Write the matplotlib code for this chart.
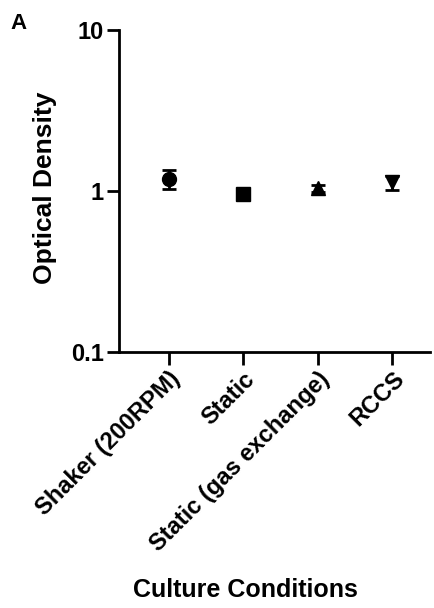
import matplotlib
matplotlib.use('Agg')
from matplotlib import pyplot as plt
from matplotlib.ticker import FixedLocator, NullLocator, FixedFormatter

plt.rcParams['font.family'] = ['Liberation Sans', 'DejaVu Sans']
plt.rcParams['font.weight'] = 'bold'

conditions = ['Shaker (200RPM)', 'Static', 'Static (gas exchange)', 'RCCS']
od_mean = [1.19, 0.96, 1.04, 1.13]
od_sd = [0.16, 0.02, 0.05, 0.11]
markers = ['o', 's', '^', 'v']

fig = plt.figure(figsize=(4.34, 6.08), dpi=100)
ax = fig.add_axes([0.274, 0.421, 0.716, 0.530])

for i in range(len(conditions)):
    ax.errorbar(i, od_mean[i], yerr=od_sd[i], fmt=markers[i], color='black',
                markersize=10, capsize=5, elinewidth=2, capthick=2)

ax.set_yscale('log')
ax.set_ylim(0.1, 10)
ax.set_xlim(-0.67, 3.5)
ax.yaxis.set_major_locator(FixedLocator([0.1, 1, 10]))
ax.yaxis.set_major_formatter(FixedFormatter(['0.1', '1', '10']))
ax.yaxis.set_minor_locator(NullLocator())
ax.set_xticks(range(len(conditions)))
ax.set_xticklabels(conditions, rotation=45, ha='right', rotation_mode='anchor',
                   fontsize=17, fontweight='bold')
for lab in ax.get_yticklabels():
    lab.set_fontsize(17)
    lab.set_fontweight('bold')

ax.spines['top'].set_visible(False)
ax.spines['right'].set_visible(False)
ax.spines['left'].set_linewidth(2)
ax.spines['bottom'].set_linewidth(2)
ax.tick_params(axis='both', width=2, length=9, pad=2)

ax.set_ylabel('Optical Density', fontsize=19, fontweight='bold')
ax.yaxis.set_label_coords(-0.199, 0.511)
ax.set_xlabel('Culture Conditions', fontsize=18, fontweight='bold')
ax.xaxis.set_label_coords(0.407, -0.702)
fig.text(0.023, 0.978, 'A', fontsize=16, fontweight='bold', va='top')

plt.savefig('out.png', dpi=100)
